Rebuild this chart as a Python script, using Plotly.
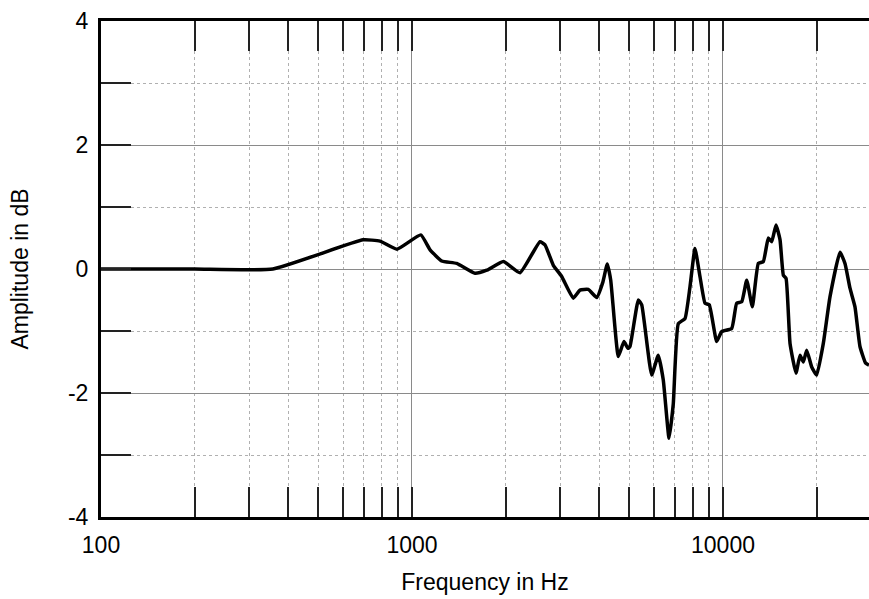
import plotly.graph_objects as go

# Frequency response (Hz, dB)
freq_hz = [100, 200, 357, 696, 789, 895, 1067, 1143, 1246, 1392, 1594, 1739, 1967, 2225,
           2579, 2677, 2847, 3029, 3301, 3469, 3689, 3926, 4104, 4246, 4355, 4607, 4805,
           4949, 5023, 5343, 5479, 5898, 6194, 6427, 6707, 6922, 7183, 7547, 7831, 8128,
           8433, 8753, 9036, 9544, 9903, 10666, 11068, 11486, 11922, 12427, 12991, 13481,
           13989, 14345, 14809, 15256, 15634, 15951, 16428, 17173, 17688, 18126, 18587,
           19287, 20014, 21019, 22081, 23779, 24677, 25608, 26572, 27572, 28760, 29480]
amp_db = [0.0, 0.0, 0.0, 0.47, 0.45, 0.32, 0.55, 0.31, 0.13, 0.09, -0.07, -0.02, 0.12, -0.06,
          0.44, 0.39, 0.06, -0.12, -0.47, -0.34, -0.33, -0.46, -0.22, 0.08, -0.18, -1.41, -1.17,
          -1.28, -1.25, -0.5, -0.58, -1.71, -1.39, -1.79, -2.73, -2.17, -0.88, -0.8, -0.29, 0.33,
          -0.12, -0.55, -0.58, -1.17, -1.01, -0.96, -0.55, -0.53, -0.18, -0.61, 0.09, 0.12,
          0.50, 0.44, 0.71, 0.47, -0.1, -0.15, -1.2, -1.68, -1.39, -1.5, -1.31, -1.58,
          -1.71, -1.2, -0.45, 0.27, 0.09, -0.31, -0.61, -1.25, -1.52, -1.55]

x_major = [100, 1000, 10000]
x_minor = [200, 300, 400, 500, 600, 700, 800, 900,
           2000, 3000, 4000, 5000, 6000, 7000, 8000, 9000, 20000]
x_labels = ["100", "1000", "10000"]
y_major = [-4, -2, 0, 2, 4]
y_labels = ["-4", "-2", "0", "2", "4"]
y_minor = [-3, -1, 1, 3]
y_all = [-4, -3, -2, -1, 0, 1, 2, 3, 4]

FONT = "Liberation Sans, Arial, sans-serif"

fig = go.Figure()
fig.add_trace(go.Scatter(x=freq_hz, y=amp_db, mode="lines",
                         line=dict(color="black", width=3.5, shape="spline", smoothing=0.4),
                         showlegend=False, hoverinfo="skip"))

fig.update_layout(
    width=869, height=599,
    margin=dict(l=101, r=0, t=21, b=82),
    paper_bgcolor="white", plot_bgcolor="white",
    font=dict(family=FONT, size=23, color="black"),
    xaxis=dict(
        type="log", range=[2, 4.4695],
        tickmode="array", tickvals=x_major, ticktext=x_labels,
        ticks="inside", ticklen=30, tickwidth=2, tickcolor="#222",
        showline=True, linecolor="black", linewidth=3, mirror="allticks",
        showgrid=True, gridcolor="#8a8a8a", gridwidth=1,
        minor=dict(tickmode="array", tickvals=x_minor, ticks="inside", ticklen=30,
                   tickwidth=2, tickcolor="#222", showgrid=True,
                   gridcolor="#b0b0b0", griddash="dot", gridwidth=1),
        zeroline=False, ticklabelstandoff=5,
        title=dict(text="Frequency in Hz", standoff=18, font=dict(size=23)),
    ),
    yaxis=dict(
        range=[-4, 4], tickmode="array", tickvals=y_major, ticktext=y_labels,
        ticks="inside", ticklen=30, tickwidth=2, tickcolor="#222",
        showline=True, linecolor="black", linewidth=3, mirror=False,
        showgrid=True, gridcolor="#8a8a8a", gridwidth=1,
        minor=dict(tickmode="array", tickvals=y_minor, ticks="inside", ticklen=30,
                   tickwidth=2, tickcolor="#222", showgrid=True,
                   gridcolor="#b0b0b0", griddash="dot", gridwidth=1),
        zeroline=False, ticklabelstandoff=5,
        title=dict(text="Amplitude in dB", standoff=33, font=dict(size=23)),
    ),
    yaxis2=dict(
        overlaying="y", side="right", range=[-4, 4],
        tickmode="array", tickvals=y_all, showticklabels=False,
        ticks="inside", ticklen=30, tickwidth=2, tickcolor="#222",
        showline=False, showgrid=False, zeroline=False,
    ),
)

fig.write_html("out.html")
